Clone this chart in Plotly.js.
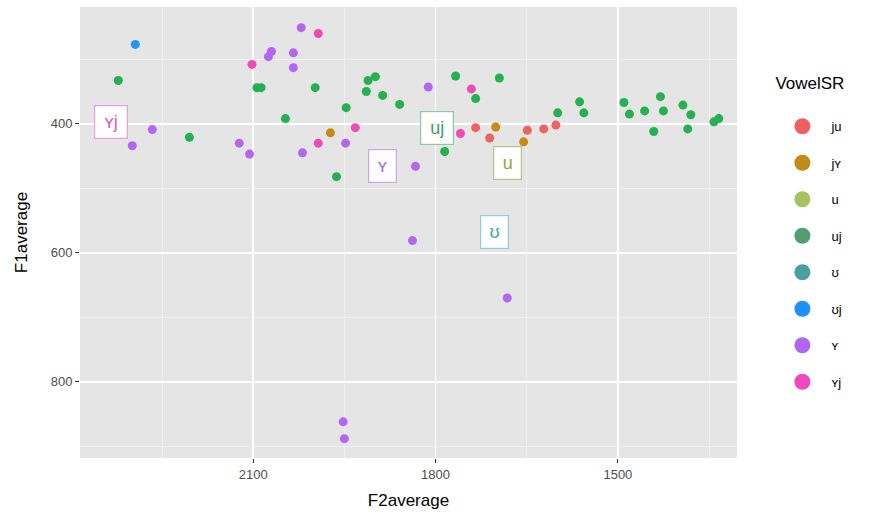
<!DOCTYPE html>
<html>
<head>
<meta charset="utf-8">
<script src="https://cdn.plot.ly/plotly-3.0.1.min.js"></script>
<style>html,body{margin:0;padding:0;background:#fff;}#chart{width:883px;height:515px;}</style>
</head>
<body>
<div id="chart"></div>
<script>
// Categories (legend order)
const categories = ['ju', 'jʏ', 'u', 'uj', 'ʊ', 'ʊj', 'ʏ', 'ʏj'];
const pointColors = ['#EE6262', '#C88A10', '#9DBB3E', '#24B150', '#1FB5B8', '#2196F3', '#B565F2', '#EE4BB5'];
const legendColors = ['#EE6060', '#C48A16', '#A7C25E', '#4FA06E', '#4AA0A0', '#2090FF', '#B266F0', '#EE48C0'];

// Points per category: F2average (x), F1average (y)
const ju_F2 = [1734, 1711, 1649, 1622, 1602];
const ju_F1 = [406, 422, 410, 408, 402];
const jY_F2 = [1973, 1701, 1655];
const jY_F1 = [414, 405, 428];
const u_F2 = [];
const u_F1 = [];
const uj_F2 = [2322, 2205, 2094, 2087, 1998, 2047, 1947, 1963, 1911, 1899, 1914, 1887, 1859, 1767, 1734, 1695, 1785, 1599, 1563, 1556, 1490, 1481, 1456, 1430, 1425, 1441, 1393, 1380, 1385, 1342, 1334];
const uj_F1 = [333, 421, 344, 344, 344, 392, 375, 482, 333, 327, 350, 356, 370, 326, 361, 329, 443, 383, 366, 383, 367, 385, 380, 358, 380, 412, 371, 386, 408, 397, 392];
const U_F2 = [];
const U_F1 = [];
const Uj_F2 = [2294];
const Uj_F1 = [277];
const Y_F2 = [2266, 2299, 2021, 2070, 2075, 2034, 2034, 1948, 2123, 2106, 2019, 1812, 1833, 1838, 1682, 1952, 1950];
const Y_F1 = [409, 434, 251, 288, 296, 290, 313, 430, 430, 447, 445, 343, 466, 581, 670, 862, 888];
const Yj_F2 = [1993, 2102, 1932, 1993, 1741, 1759];
const Yj_F1 = [260, 308, 406, 430, 346, 415];

// Text labels
const labelText = ['ʏj', 'ʏ', 'uj', 'u', 'ʊ'];
const labelF2 = [2334, 1887, 1797, 1682, 1703];
const labelF1 = [397, 466, 406, 461, 567];
const labelTextColors = ['#D860B4', '#A470E2', '#3F9E66', '#8FA53A', '#35A8AE'];
const labelBorderColors = ['#E6A2D8', '#C8A8F0', '#8CC8A5', '#B8C480', '#8ED0D2'];

// Tick labels
const xTicks = [2100, 1800, 1500];
const yTicks = [400, 600, 800];

const seriesX = [ju_F2, jY_F2, u_F2, uj_F2, U_F2, Uj_F2, Y_F2, Yj_F2];
const seriesY = [ju_F1, jY_F1, u_F1, uj_F1, U_F1, Uj_F1, Y_F1, Yj_F1];

const traces = [];
categories.forEach((c, i) => {
  traces.push({
    type: 'scatter', mode: 'markers', x: seriesX[i], y: seriesY[i],
    marker: {color: pointColors[i], size: 9}, showlegend: false, hoverinfo: 'x+y'
  });
});
categories.forEach((c, i) => {
  traces.push({
    type: 'scatter', mode: 'markers', x: [null], y: [null], name: c,
    legendgroup: 'g' + i,
    marker: {color: legendColors[i], size: 16}, showlegend: true
  });
});

const annotations = labelText.map((t, i) => ({
  x: labelF2[i], y: labelF1[i], xref: 'x', yref: 'y', text: t, showarrow: false,
  font: {size: 18, color: labelTextColors[i], family: 'Liberation Sans, Arial, sans-serif'},
  width: t.length > 1 ? 24 : 19, height: 24,
  bgcolor: 'rgba(255,255,255,0.95)', bordercolor: labelBorderColors[i], borderwidth: 1.2, borderpad: 4
}));

const layout = {
  width: 883, height: 515,
  margin: {l: 80, r: 146, t: 7, b: 57},
  paper_bgcolor: '#ffffff', plot_bgcolor: '#E5E5E5',
  font: {family: 'Liberation Sans, Arial, sans-serif', color: '#000'},
  xaxis: {
    range: [2385, 1304], tickvals: xTicks, ticktext: xTicks.map(String),
    showgrid: true, gridcolor: '#ffffff', gridwidth: 1.5, zeroline: false,
    ticks: 'outside', ticklen: 4, tickcolor: '#333333', tickwidth: 1,
    tickfont: {size: 13, color: '#4D4D4D'},
    minor: {tickvals: [2250, 1950, 1650, 1350], showgrid: true, gridcolor: '#F2F2F2', gridwidth: 0.8, ticks: ''},
    title: {text: 'F2average', font: {size: 17, color: '#000'}, standoff: 13},
    showline: false
  },
  yaxis: {
    range: [918, 219], tickvals: yTicks, ticktext: yTicks.map(String),
    showgrid: true, gridcolor: '#ffffff', gridwidth: 1.5, zeroline: false,
    ticks: 'outside', ticklen: 4, tickcolor: '#333333', tickwidth: 1,
    tickfont: {size: 13, color: '#4D4D4D'},
    minor: {tickvals: [300, 500, 700, 900], showgrid: true, gridcolor: '#F2F2F2', gridwidth: 0.8, ticks: ''},
    title: {text: 'F1average', font: {size: 17, color: '#000'}, standoff: 18},
    showline: false
  },
  legend: {
    x: 1.0554, y: 0.8667, xanchor: 'left', yanchor: 'top',
    title: {text: 'VowelSR<br> ', font: {size: 17, color: '#000'}},
    font: {size: 13, color: '#000'},
    traceorder: 'grouped', tracegroupgap: 16.6, itemwidth: 48,
    bgcolor: 'rgba(0,0,0,0)', borderwidth: 0
  },
  annotations: annotations,
  showlegend: true
};

Plotly.newPlot('chart', traces, layout, {displayModeBar: false, staticPlot: true});
</script>
</body>
</html>
